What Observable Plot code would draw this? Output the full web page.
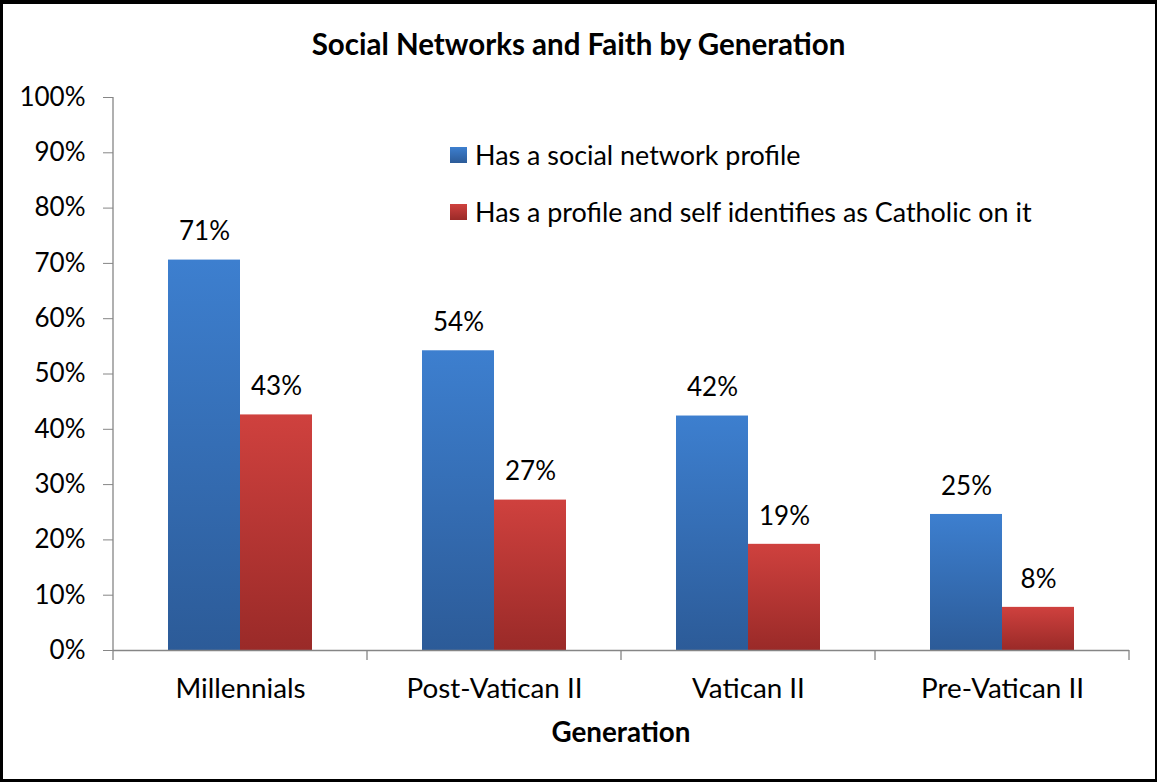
<!DOCTYPE html>
<html><head><meta charset="utf-8">
<script src="https://cdn.jsdelivr.net/npm/d3@7"></script>
<script src="https://cdn.jsdelivr.net/npm/@observablehq/plot@0.6"></script>
<style>
body{margin:0;background:#fff;}
#wrap{position:relative;width:1157px;height:782px;overflow:hidden;font-family:Lato,sans-serif;color:#000;background:#fff}
#chart{position:absolute;left:0;top:0}
#border{position:absolute;left:0;top:0;width:1157px;height:782px;box-sizing:border-box;border-style:solid;border-color:#000;border-width:4px 2px 3px 3px;pointer-events:none}
#title{position:absolute;left:0;width:1157px;top:26px;text-align:center;font-weight:bold;font-size:29.5px;line-height:36px}
#xlabel{position:absolute;left:112px;width:1018px;top:714px;text-align:center;font-weight:bold;font-size:27.8px;line-height:36px}
.leg{position:absolute;left:450px;font-size:26.9px;line-height:30px;display:flex;align-items:center}
.sw{width:17px;height:16px;margin-right:8px;flex:none}
</style></head>
<body>
<div id="wrap">
  <div id="chart"></div>
  <div id="title"></div>
  <div id="legend"></div>
  <div id="xlabel"></div>
  <div id="border"></div>
</div>
<script>
const titleText = "Social Networks and Faith by Generation";
const xAxisTitle = "Generation";
const generations = ["Millennials", "Post-Vatican II", "Vatican II", "Pre-Vatican II"];
const series = ["Has a social network profile", "Has a profile and self identifies as Catholic on it"];
const profile = [0.706, 0.542, 0.424, 0.246];
const catholic = [0.426, 0.272, 0.192, 0.078];
const profileLabels = ["71%", "54%", "42%", "25%"];
const catholicLabels = ["43%", "27%", "19%", "8%"];
const yTicks = [0, 0.1, 0.2, 0.3, 0.4, 0.5, 0.6, 0.7, 0.8, 0.9, 1.0];
const seriesColors = [["#3d7fcf", "#2c5b98"], ["#cf413e", "#9a2a28"]];

const data = generations.flatMap((g, i) => [
  {generation: g, series: series[0], value: profile[i], label: profileLabels[i]},
  {generation: g, series: series[1], value: catholic[i], label: catholicLabels[i]}
]);

const gridColor = "#868686";
const fs = 26;

const chart = Plot.plot({
  width: 1157, height: 782,
  marginLeft: 112, marginRight: 27, marginTop: 97, marginBottom: 132,
  style: {fontFamily: "Lato, sans-serif", fontSize: fs + "px", color: "#000", background: "transparent", overflow: "visible"},
  fx: {domain: generations, padding: 0, label: null},
  x: {domain: series, paddingInner: 0, paddingOuter: 0.75, axis: null},
  y: {domain: [0, 1], label: null},
  color: {domain: series, range: ["url(#gBlue)", "url(#gRed)"]},
  marks: [
    Plot.axisY({ticks: yTicks, tickFormat: d3.format(".0%"), tickSize: 10, tickPadding: 18, stroke: gridColor, fill: "#000", fontSize: fs, label: null}),
    Plot.axisFx({anchor: "bottom", tickSize: 0, tickPadding: 28, fontSize: 27.8, label: null}),
    Plot.barY(data, {fx: "generation", x: "series", y: "value", fill: "series"}),
    Plot.ruleY([0], {stroke: gridColor, strokeWidth: 1.3}),
    Plot.text(data, {fx: "generation", x: "series", y: "value", text: "label", dy: -28, fontSize: fs, fill: "#000"})
  ]
});

const svg = d3.select(chart);
const defs = svg.insert("defs", ":first-child");
[["gBlue", seriesColors[0]], ["gRed", seriesColors[1]]].forEach(([id, [top, bottom]]) => {
  const g = defs.append("linearGradient").attr("id", id).attr("x1", 0).attr("y1", 0).attr("x2", 0).attr("y2", 1);
  g.append("stop").attr("offset", "0%").attr("stop-color", top);
  g.append("stop").attr("offset", "100%").attr("stop-color", bottom);
});

// axis line and category boundary ticks (Excel style), from the library's scales
const fx = chart.scale("fx"), y = chart.scale("y");
const y0 = y.apply(0), y1 = y.apply(1);
const fxStart = fx.apply(generations[0]);
svg.append("line").attr("x1", fxStart).attr("x2", fxStart).attr("y1", y0).attr("y2", y1)
  .attr("stroke", gridColor).attr("stroke-width", 1.3);
const bounds = generations.map(g => fx.apply(g)).concat([fx.apply(generations[generations.length - 1]) + fx.bandwidth]);
bounds.forEach(b => {
  svg.append("line").attr("x1", b).attr("x2", b).attr("y1", y0).attr("y2", y0 + 10)
    .attr("stroke", gridColor).attr("stroke-width", 1.3);
});

document.getElementById("chart").append(chart);
document.getElementById("title").textContent = titleText;
document.getElementById("xlabel").textContent = xAxisTitle;

const legend = document.getElementById("legend");
const legendTops = [140, 197];
series.forEach((s, i) => {
  const row = document.createElement("div");
  row.className = "leg";
  row.style.top = legendTops[i] + "px";
  const sw = document.createElement("div");
  sw.className = "sw";
  sw.style.background = `linear-gradient(${seriesColors[i][0]}, ${seriesColors[i][1]})`;
  const t = document.createElement("span");
  t.textContent = s;
  row.append(sw, t);
  legend.append(row);
});
</script>
</body></html>
